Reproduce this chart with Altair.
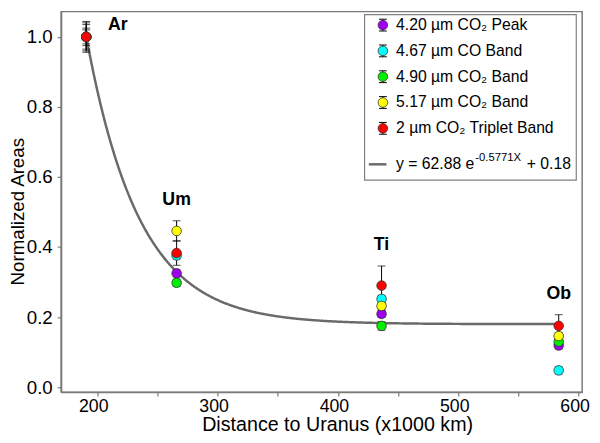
import altair as alt
import pandas as pd

# ---------------- data ----------------
moons = ["Ar", "Um", "Ti", "Ob"]
distance = [190.9, 266.0, 436.3, 583.5]  # x1000 km

series_names = ["4.20 µm CO₂ Peak", "4.67 µm CO Band", "4.90 µm CO₂ Band",
                "5.17 µm CO₂ Band", "2 µm CO₂ Triplet Band"]
series_colors = ["#A000F0", "#00FFFF", "#00EE00", "#FFFF00", "#FF0000"]

peak_420 = [1.0, 0.325, 0.209, 0.119]
err_420 = [0.044, 0.010, 0.010, 0.010]
co_467 = [1.0, 0.376, 0.252, 0.048]
err_467 = [0.025, 0.010, 0.010, 0.010]
band_490 = [1.0, 0.298, 0.175, 0.130]
err_490 = [0.035, 0.010, 0.012, 0.010]
band_517 = [1.0, 0.446, 0.232, 0.146]
err_517 = [0.020, 0.029, 0.010, 0.010]
triplet_2 = [1.0, 0.383, 0.290, 0.175]
err_2 = [0.040, 0.035, 0.056, 0.032]

values = [peak_420, co_467, band_490, band_517, triplet_2]
errors = [err_420, err_467, err_490, err_517, err_2]

# fit: y = a e^(-b X) + c, X = distance / Uranus radius
fit_a, fit_b, fit_c = 62.88, 0.5771, 0.18
uranus_radius = 25.4  # x1000 km

x_ticks = [200, 250, 300, 350, 400, 450, 500, 550, 600]
y_ticks = [0.0, 0.2, 0.4, 0.6, 0.8, 1.0]

# ---------------- tables ----------------
rows = []
for si, (name, vals, errs) in enumerate(zip(series_names, values, errors)):
    for m, d, v, e in zip(moons, distance, vals, errs):
        rows.append(dict(series=name, order=si, moon=m, distance=d,
                         area=v, lo=v - e, hi=v + e))
df = pd.DataFrame(rows)

lab_df = df.groupby("moon", sort=False).agg(distance=("distance", "first"),
                                            top=("hi", "max")).reset_index()

legend_df = pd.DataFrame({"series": series_names, "idx": list(range(len(series_names)))})

FONT = "Liberation Sans"

xs = alt.Scale(domain=[170, 603], nice=False, zero=False)
ys = alt.Scale(domain=[-0.014, 1.072], nice=False, zero=False)
color_scale = alt.Scale(domain=series_names, range=series_colors)

x_axis = alt.Axis(values=x_ticks, format="d",
                  labelExpr="datum.value % 100 == 0 ? datum.label : ''",
                  title="Distance to Uranus (x1000 km)", grid=False,
                  tickSize=4, labelPadding=2, labelOffset=-4, labelFlush=False,
                  labelFontSize=18, titleFontSize=20,
                  titleX=143, titleY=39, titleAlign="left",
                  titleBaseline="alphabetic")
y_axis = alt.Axis(values=y_ticks, format=".1f", title="Normalized Areas",
                  grid=False, tickSize=4, labelPadding=5, labelFlush=False,
                  labelFontSize=19, titleFontSize=19,
                  titleX=-38, titleY=203, titleAlign="center",
                  titleBaseline="alphabetic")

X = alt.X("distance:Q", scale=xs, axis=x_axis)

# ---------------- fit curve ----------------
curve = alt.Chart(alt.sequence(start=distance[0], stop=distance[-1] + 0.5,
                               step=0.5, as_="distance")).transform_calculate(
    area=f"{fit_a} * exp(-{fit_b} * datum.distance / {uranus_radius}) + {fit_c}"
).mark_line(color="#6a6a6a", strokeWidth=2.5).encode(
    x=X, y=alt.Y("area:Q", scale=ys, axis=y_axis)
)

base = alt.Chart(df)

rules = base.mark_rule(color="black", strokeWidth=1).encode(
    x=X, y=alt.Y("lo:Q", scale=ys, axis=y_axis), y2="hi:Q"
)

caps = base.transform_fold(["lo", "hi"], as_=["end", "cap"]).mark_tick(
    orient="horizontal", size=8, thickness=1, color="black"
).encode(x=X, y=alt.Y("cap:Q", scale=ys, axis=y_axis))

points = base.mark_circle(size=95, opacity=1, stroke="#333333", strokeWidth=0.8).encode(
    x=X, y=alt.Y("area:Q", scale=ys, axis=y_axis),
    color=alt.Color("series:N", scale=color_scale, legend=None),
    order=alt.Order("order:Q"),
)

lab_base = alt.Chart(lab_df)
lab_ar = lab_base.transform_filter("datum.moon == 'Ar'").mark_text(
    font=FONT, fontSize=18, fontWeight="bold", color="black",
    baseline="alphabetic", align="center", dx=32, dy=9
).encode(x=X, y=alt.Y("top:Q", scale=ys, axis=y_axis), text="moon:N")
lab_rest = lab_base.transform_filter("datum.moon != 'Ar'").mark_text(
    font=FONT, fontSize=18, fontWeight="bold", color="black",
    baseline="alphabetic", align="center", dy=-16
).encode(x=X, y=alt.Y("top:Q", scale=ys, axis=y_axis), text="moon:N")

# ---------------- legend (drawn inside plot) ----------------
one = pd.DataFrame({"k": [0]})
SX = 327.3   # symbol x
TX = 340.7   # text x

leg_box = alt.Chart(one).mark_rect(fill="white", stroke="#808080", strokeWidth=1.2).encode(
    x=alt.value(308.7), x2=alt.value(524), y=alt.value(3), y2=alt.value(171.3)
)

leg = alt.Chart(legend_df).transform_calculate(
    ly="13.7 + datum.idx * 26.25", y1="datum.ly - 6", y2="datum.ly + 6"
)
leg_stem = leg.mark_rule(color="black", strokeWidth=1).encode(
    x=alt.value(SX), y=alt.Y("y1:Q", scale=None, axis=None), y2="y2:Q"
)
leg_caps = leg.transform_fold(["y1", "y2"], as_=["end", "cy"]).mark_rule(
    color="black", strokeWidth=1
).encode(x=alt.value(SX - 4), x2=alt.value(SX + 4), y=alt.Y("cy:Q", scale=None, axis=None))
leg_pts = leg.mark_circle(size=95, opacity=1, stroke="#333333", strokeWidth=0.8).encode(
    x=alt.value(SX), y=alt.Y("ly:Q", scale=None, axis=None),
    color=alt.Color("series:N", scale=color_scale, legend=None),
)
leg_txt = leg.mark_text(font=FONT, fontSize=16, align="left", baseline="middle",
                        color="black").encode(
    x=alt.value(TX), y=alt.Y("ly:Q", scale=None, axis=None), text="series:N"
)

EQ_Y = 155.3
eq_line = alt.Chart(one).mark_rule(color="#6a6a6a", strokeWidth=2.5).encode(
    x=alt.value(313), x2=alt.value(331), y=alt.value(EQ_Y)
)
eq1 = alt.Chart(one).mark_text(font=FONT, fontSize=16, align="left", baseline="middle",
                               color="black", text=f"y = {fit_a} e").encode(
    x=alt.value(TX), y=alt.value(EQ_Y))
eq2 = alt.Chart(one).mark_text(font=FONT, fontSize=11.5, align="left", baseline="middle",
                               color="black", text=f"-{fit_b}X").encode(
    x=alt.value(TX + 80.5), y=alt.value(EQ_Y - 6))
eq3 = alt.Chart(one).mark_text(font=FONT, fontSize=16, align="left", baseline="middle",
                               color="black", text=f"+ {fit_c}").encode(
    x=alt.value(TX + 133), y=alt.value(EQ_Y))

chart = alt.layer(
    curve, rules, caps, points, lab_ar, lab_rest,
    leg_box, leg_stem, leg_caps, leg_pts, leg_txt, eq_line, eq1, eq2, eq3
).properties(
    width=530, height=387,
    autosize=alt.AutoSizeParams(type="none"),
    padding={"left": 54, "top": 0, "right": 10, "bottom": 44},
).configure_view(
    stroke="#7a7a7a", strokeWidth=1.5
).configure_axis(
    domainColor="#7a7a7a", tickColor="#7a7a7a", domainWidth=1.5, tickWidth=1.2,
    labelFont=FONT, titleFont=FONT,
    labelColor="black", titleColor="black", titleFontWeight="normal"
)

chart.save("out.html", embed_options={"renderer": "svg", "actions": False})
